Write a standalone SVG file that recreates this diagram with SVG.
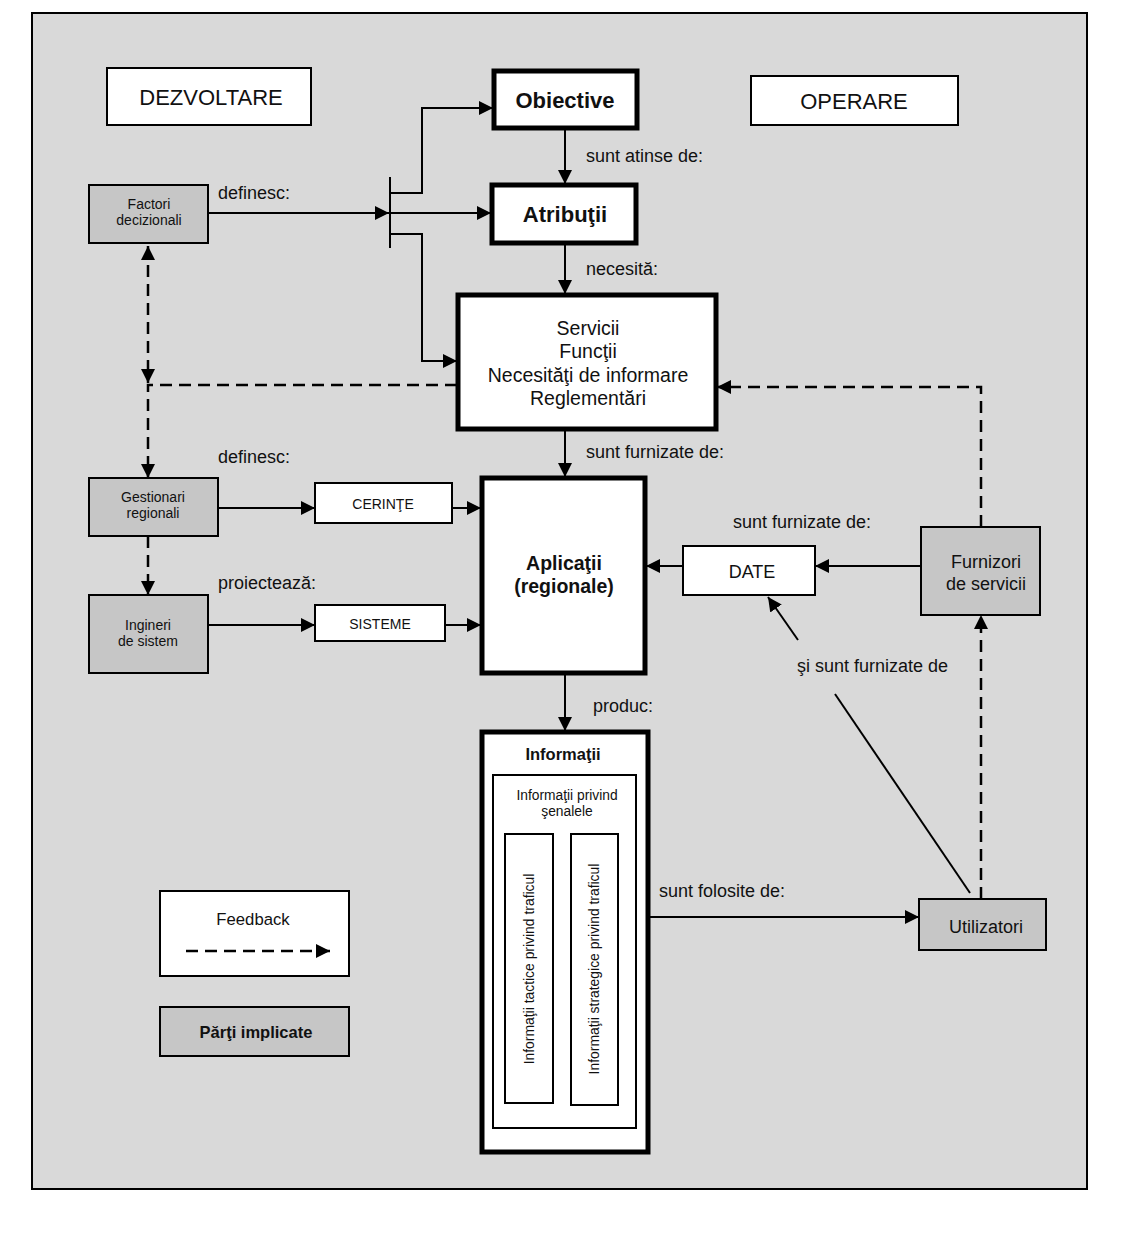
<svg xmlns="http://www.w3.org/2000/svg" width="1127" height="1237" viewBox="0 0 1127 1237">
<defs>
<marker id="ah" viewBox="0 0 10 10" refX="10" refY="5" markerWidth="14" markerHeight="14" markerUnits="userSpaceOnUse" orient="auto-start-reverse">
<path d="M0,0 L10,5 L0,10 z" fill="#000"/>
</marker>
<style>
text{font-family:"Liberation Sans",Arial,sans-serif;fill:#111;text-anchor:middle}
.w{fill:#fff;stroke:#000;stroke-width:2}
.wb{fill:#fff;stroke:#000;stroke-width:5}
.g{fill:#c6c6c6;stroke:#000;stroke-width:2}
.ln{fill:none;stroke:#000;stroke-width:2}
.ds{fill:none;stroke:#000;stroke-width:2.5;stroke-dasharray:12,7}
.lbl{font-size:18px;text-anchor:start}
.s12{font-size:14px}
.b{font-weight:bold}
</style>
</defs>
<rect width="1127" height="1237" fill="#fff"/>
<rect x="32" y="13" width="1055" height="1176" fill="#d9d9d9" stroke="#000" stroke-width="2"/>

<g id="connectors">
<path class="ln" d="M565,129 V184" marker-end="url(#ah)"/>
<path class="ln" d="M565,244 V294" marker-end="url(#ah)"/>
<path class="ln" d="M565,430 V477" marker-end="url(#ah)"/>
<path class="ln" d="M565,674 V731" marker-end="url(#ah)"/>
<path class="ln" d="M208,213 H389" marker-end="url(#ah)"/>
<path class="ln" d="M390,177 V248"/>
<path class="ln" d="M390,193 H422 V108 H493" marker-end="url(#ah)"/>
<path class="ln" d="M390,213 H491" marker-end="url(#ah)"/>
<path class="ln" d="M390,234 H422 V361 H457" marker-end="url(#ah)"/>
<path class="ds" d="M148,246 V383" marker-start="url(#ah)" marker-end="url(#ah)"/>
<path class="ds" d="M457,385 H148 V478" marker-end="url(#ah)"/>
<path class="ln" d="M218,508 H315" marker-end="url(#ah)"/>
<path class="ln" d="M452,508 H481" marker-end="url(#ah)"/>
<path class="ds" d="M148,536 V595" marker-end="url(#ah)"/>
<path class="ln" d="M208,625 H315" marker-end="url(#ah)"/>
<path class="ln" d="M445,625 H481" marker-end="url(#ah)"/>
<path class="ln" d="M921,566 H815" marker-end="url(#ah)"/>
<path class="ln" d="M683,566 H646" marker-end="url(#ah)"/>
<path class="ds" d="M981,527 V387 H717" marker-end="url(#ah)"/>
<path class="ds" d="M981,899 V615" marker-end="url(#ah)"/>
<path class="ln" d="M970,893 L835,694"/>
<path class="ln" d="M798,640 L768,597" marker-end="url(#ah)"/>
<path class="ln" d="M649,917 H919" marker-end="url(#ah)"/>
<text class="lbl" x="586" y="162">sunt atinse de:</text>
<text class="lbl" x="586" y="275">necesită:</text>
<text class="lbl" x="586" y="458">sunt furnizate de:</text>
<text class="lbl" x="593" y="712">produc:</text>
<text class="lbl" x="218" y="199">definesc:</text>
<text class="lbl" x="218" y="463">definesc:</text>
<text class="lbl" x="218" y="589">proiectează:</text>
<text class="lbl" x="733" y="528">sunt furnizate de:</text>
<text class="lbl" x="797" y="672">şi sunt furnizate de</text>
<text class="lbl" x="659" y="897">sunt folosite de:</text>
</g>

<g id="dezvoltare"><rect class="w" x="107" y="68" width="204" height="57"/><text x="211" y="105" font-size="22">DEZVOLTARE</text></g>
<g id="operare"><rect class="w" x="751" y="76" width="207" height="49"/><text x="854" y="109" font-size="22">OPERARE</text></g>
<g id="obiective"><rect class="wb" x="494" y="71" width="143" height="57"/><text class="b" x="565" y="108" font-size="22">Obiective</text></g>
<g id="atributii"><rect class="wb" x="492" y="185" width="144" height="58"/><text class="b" x="565" y="222" font-size="22">Atribuţii</text></g>
<g id="servicii"><rect class="wb" x="458" y="295" width="258" height="134"/>
<text x="588" y="335" font-size="19.5">Servicii</text>
<text x="588" y="358" font-size="19.5">Funcţii</text>
<text x="588" y="382" font-size="19.5">Necesităţi de informare</text>
<text x="588" y="405" font-size="19.5">Reglementări</text></g>
<g id="aplicatii"><rect class="wb" x="482" y="478" width="163" height="195"/>
<text class="b" x="564" y="570" font-size="19.5">Aplicaţii</text>
<text class="b" x="564" y="593" font-size="19.5">(regionale)</text></g>
<g id="informatii"><rect class="wb" x="482" y="732" width="166" height="420"/>
<text class="b" x="563" y="760" font-size="16.5">Informaţii</text>
<rect class="w" x="493" y="775" width="143" height="353"/>
<text x="567" y="800" font-size="13.8">Informaţii privind</text>
<text x="567" y="816" font-size="13.8">şenalele</text>
<rect class="w" x="505" y="834" width="48" height="269"/>
<rect class="w" x="571" y="834" width="47" height="271"/>
<text x="0" y="0" font-size="13.9" transform="translate(534,969) rotate(-90)">Informaţii tactice privind traficul</text>
<text x="0" y="0" font-size="13.9" transform="translate(599,969) rotate(-90)">Informaţii strategice privind traficul</text></g>
<g id="factori"><rect class="g" x="89" y="185" width="119" height="58"/><text class="s12" x="149" y="209">Factori</text><text class="s12" x="149" y="225">decizionali</text></g>
<g id="gestionari"><rect class="g" x="89" y="478" width="129" height="58"/><text class="s12" x="153" y="502">Gestionari</text><text class="s12" x="153" y="518">regionali</text></g>
<g id="ingineri"><rect class="g" x="89" y="595" width="119" height="78"/><text class="s12" x="148" y="630">Ingineri</text><text class="s12" x="148" y="646">de sistem</text></g>
<g id="cerinte"><rect class="w" x="315" y="483" width="137" height="40"/><text x="383" y="509" font-size="14">CERINŢE</text></g>
<g id="sisteme"><rect class="w" x="315" y="605" width="130" height="36"/><text x="380" y="629" font-size="14">SISTEME</text></g>
<g id="date"><rect class="w" x="683" y="546" width="132" height="49"/><text x="752" y="578" font-size="18">DATE</text></g>
<g id="furnizori"><rect class="g" x="921" y="527" width="119" height="88"/><text x="986" y="568" font-size="18">Furnizori</text><text x="986" y="590" font-size="18">de servicii</text></g>
<g id="utilizatori"><rect class="g" x="919" y="899" width="127" height="51"/><text x="986" y="933" font-size="18">Utilizatori</text></g>
<g id="legend-feedback"><rect class="w" x="160" y="891" width="189" height="85"/><text x="253" y="925" font-size="16.7">Feedback</text>
<path class="ds" d="M186,951 H330" stroke-dasharray="14,8" marker-end="url(#ah)"/></g>
<g id="legend-parti"><rect class="g" x="160" y="1007" width="189" height="49"/><text class="b" x="256" y="1038" font-size="16.5">Părţi implicate</text></g>
</svg>
